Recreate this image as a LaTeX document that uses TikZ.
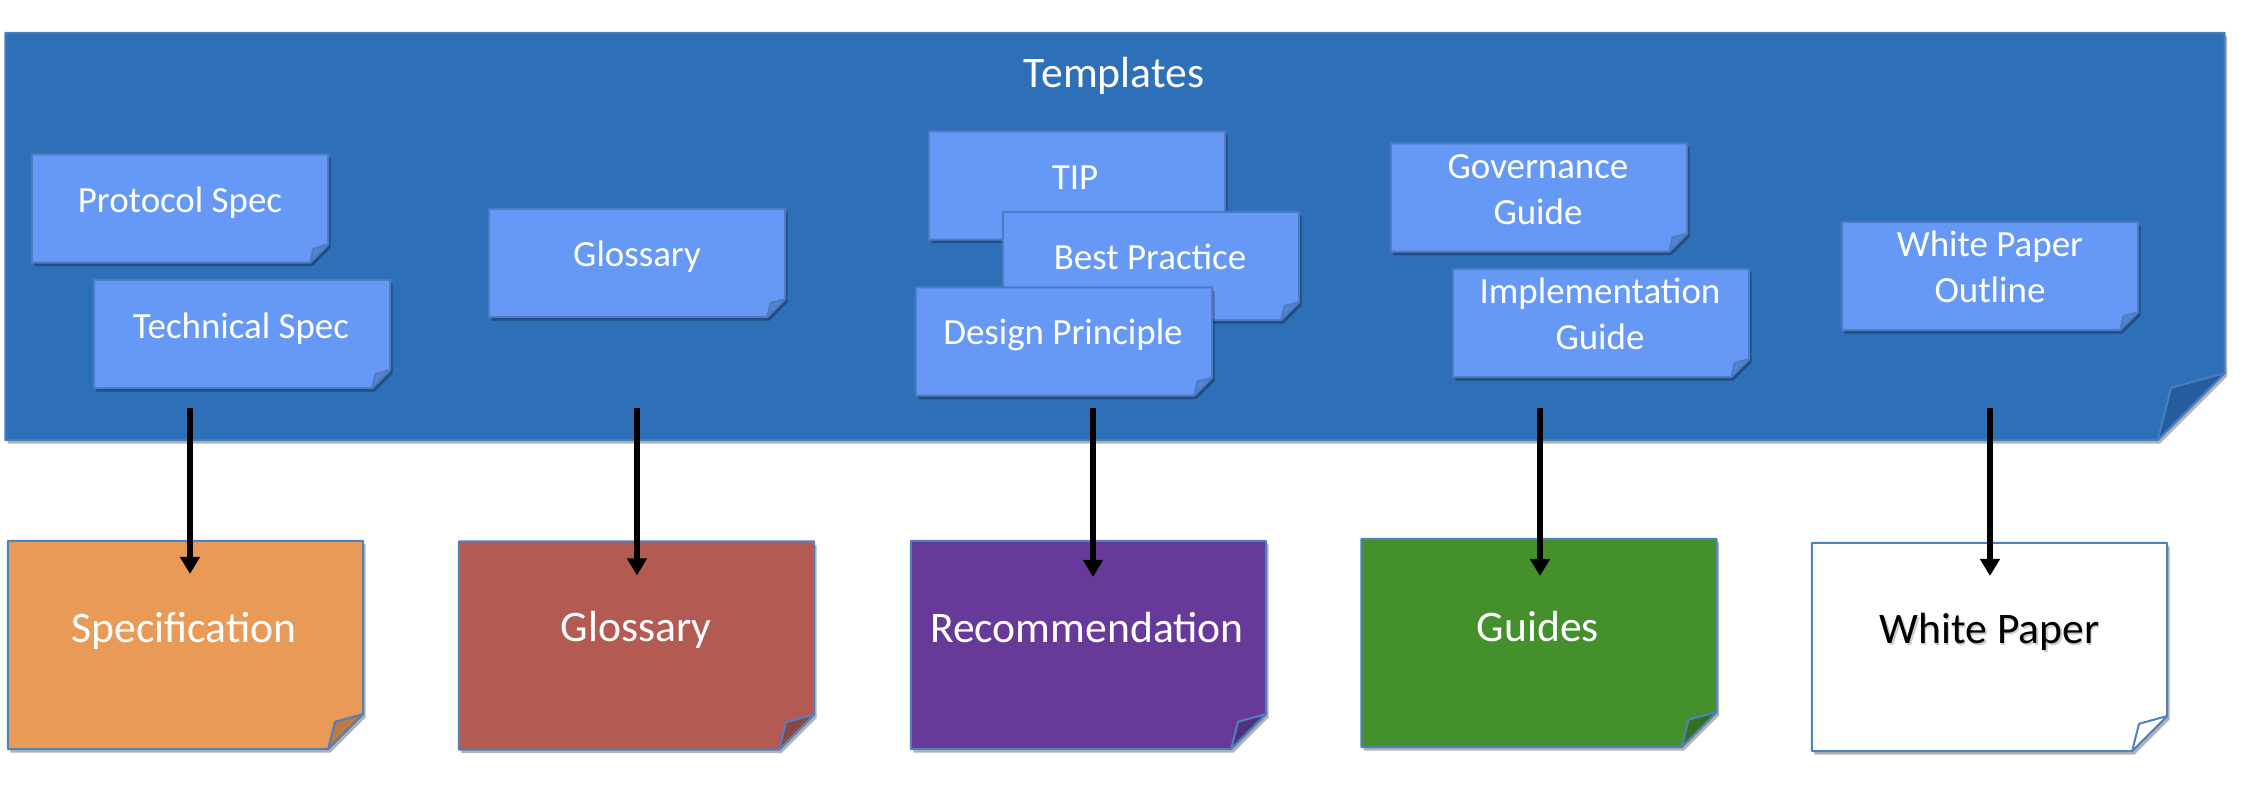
\documentclass[tikz,border=0pt]{standalone}
\usepackage{fontspec}
\setmainfont{Carlito}
\usetikzlibrary{arrows.meta,shadows,backgrounds}
\definecolor{tplblue}{HTML}{2E70B8}
\definecolor{tplfold}{HTML}{255C9E}
\definecolor{tplline}{HTML}{4A7EBB}
\definecolor{smfill}{HTML}{6699F5}
\definecolor{smline}{HTML}{4D7CC4}
\definecolor{smfold}{HTML}{5683CC}
\definecolor{specfill}{HTML}{E99A56}
\definecolor{specfold}{HTML}{BC7A44}
\definecolor{glosfill}{HTML}{B35A52}
\definecolor{glosfold}{HTML}{8C4540}
\definecolor{recfill}{HTML}{673A9A}
\definecolor{recfold}{HTML}{52307C}
\definecolor{guidefill}{HTML}{43902D}
\definecolor{guidefold}{HTML}{337024}
\definecolor{edgeblue}{HTML}{4F81BD}

\tikzset{
  paper/.style={rectangle, inner sep=0pt, outer sep=0pt},
  small/.style={paper, minimum width=2.96cm, minimum height=1.08cm},
  large/.style={paper, minimum width=3.55cm, minimum height=2.08cm},
  bigtxt/.style={font=\fontsize{12.4}{14}\selectfont, text=white, anchor=base, inner sep=0pt},
  smtxt/.style={font=\fontsize{10.5}{12.8}\selectfont, text=white, align=center, anchor=base, inner sep=0pt},
  arr/.style={line width=0.06cm, -{Triangle[width=0.19cm,length=0.17cm]}},
}

\newcommand\foldpaper[5]{%
  \begin{pgfonlayer}{background}
    \filldraw[fill=#2, draw=#5, line width=0.02cm, line join=round,
      drop shadow={shadow xshift=0.025cm, shadow yshift=-0.035cm, opacity=0.3, fill=black}]
      (#1.north west) -- (#1.north east) -- ([yshift=#4]#1.south east)
      -- ([xshift=-#4]#1.south east) -- (#1.south west) -- cycle;
    \filldraw[fill=#3, draw=#5, line width=0.02cm, line join=round]
      ([yshift=#4]#1.south east) -- ([xshift={-0.8*#4}, yshift={0.78*#4}]#1.south east)
      -- ([xshift=-#4]#1.south east) -- cycle;
  \end{pgfonlayer}%
}

\begin{document}
\begin{tikzpicture}[x=0.01cm, y=-0.01cm]
\useasboundingbox (0,0) rectangle (2244,784);

% Templates container
\node[paper, minimum width=22.18cm, minimum height=4.07cm] (tpl) at (1115,236.5) {};
\foldpaper{tpl}{tplblue}{tplfold}{0.67cm}{tplline}
\node[bigtxt] (tpl-l) at (1114,87) {Templates};

% small template notes
\node[small] (proto) at (180,208.5) {};
\foldpaper{proto}{smfill}{smfold}{0.18cm}{smline}
\node[smtxt] (proto-l) at (180,212) {Protocol Spec};

\node[small] (tech) at (242,334) {};
\foldpaper{tech}{smfill}{smfold}{0.18cm}{smline}
\node[smtxt] (tech-l) at (241,338) {Technical Spec};

\node[small] (glos) at (637,263) {};
\foldpaper{glos}{smfill}{smfold}{0.18cm}{smline}
\node[smtxt] (glos-l) at (637,266) {Glossary};

\node[small] (tip) at (1077,185.5) {};
\foldpaper{tip}{smfill}{smfold}{0.18cm}{smline}
\node[smtxt] (tip-l) at (1075,189) {TIP};

\node[small] (best) at (1151,266) {};
\foldpaper{best}{smfill}{smfold}{0.18cm}{smline}
\node[smtxt] (best-l) at (1150,269) {Best Practice};

\node[small] (design) at (1064,341.5) {};
\foldpaper{design}{smfill}{smfold}{0.18cm}{smline}
\node[smtxt] (design-l) at (1063,344) {Design Principle};

\node[small] (gov) at (1539,197.5) {};
\foldpaper{gov}{smfill}{smfold}{0.18cm}{smline}
\node[smtxt] (gov-l) at (1538,224) {Governance\\Guide};

\node[small] (impl) at (1601,323) {};
\foldpaper{impl}{smfill}{smfold}{0.18cm}{smline}
\node[smtxt] (impl-l) at (1600,349) {Implementation\\Guide};

\node[small] (wpo) at (1990,276) {};
\foldpaper{wpo}{smfill}{smfold}{0.18cm}{smline}
\node[smtxt] (wpo-l) at (1990,302) {White Paper\\Outline};

% document types
\node[large] (spec) at (185.5,645) {};
\foldpaper{spec}{specfill}{specfold}{0.35cm}{edgeblue}
\node[bigtxt] (spec-l) at (184,642) {Specification};

\node[large] (gloss) at (636.5,645.5) {};
\foldpaper{gloss}{glosfill}{glosfold}{0.35cm}{edgeblue}
\node[bigtxt] (gloss-l) at (636,641) {Glossary};

\node[large] (rec) at (1088.5,645) {};
\foldpaper{rec}{recfill}{recfold}{0.35cm}{edgeblue}
\node[bigtxt] (rec-l) at (1087,642) {Recommendation};

\node[large] (guides) at (1539,643) {};
\foldpaper{guides}{guidefill}{guidefold}{0.35cm}{edgeblue}
\node[bigtxt] (guides-l) at (1538,641) {Guides};

\node[large] (wp) at (1989.5,647) {};
\foldpaper{wp}{white}{white}{0.35cm}{edgeblue}
\node[bigtxt, text=black, opacity=0.2] (wp-sh) at (1991,645) {White Paper};
\node[bigtxt, text=black] (wp-l) at (1989.5,643) {White Paper};

% connectors
\coordinate (s1) at (190,408);
\coordinate (s2) at (637,408);
\coordinate (s3) at (1093,408);
\coordinate (s4) at (1540,408);
\coordinate (s5) at (1990,408);
\draw[arr] (s1) -- ([yshift=-0.33cm]s1 |- spec.north);
\draw[arr] (s2) -- ([yshift=-0.34cm]s2 |- gloss.north);
\draw[arr] (s3) -- ([yshift=-0.36cm]s3 |- rec.north);
\draw[arr] (s4) -- ([yshift=-0.37cm]s4 |- guides.north);
\draw[arr] (s5) -- ([yshift=-0.33cm]s5 |- wp.north);
\end{tikzpicture}
\end{document}
